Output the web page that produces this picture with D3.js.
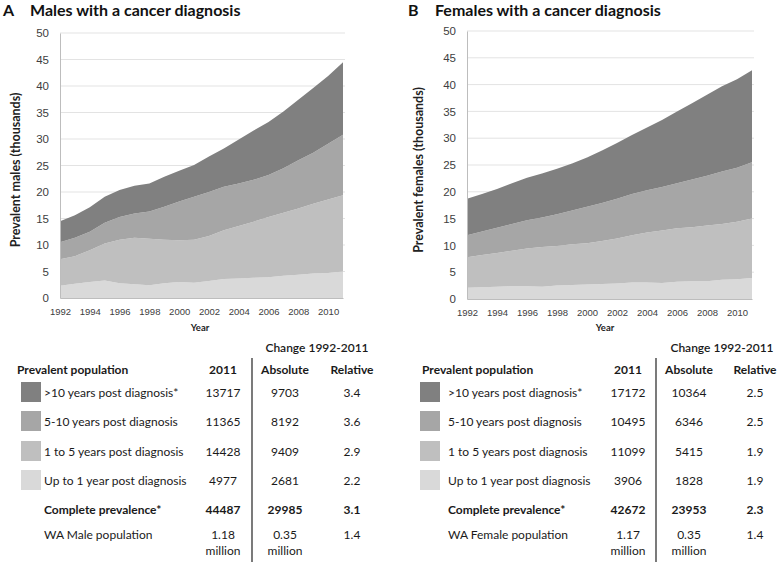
<!doctype html>
<html lang="en">
<head>
  <meta charset="utf-8">
  <title>Cancer prevalence WA</title>
  <script src="https://d3js.org/d3.v7.min.js"></script>
  <style>
  body { margin: 0; background: #fff; }
  svg { font-family: Lato, "Open Sans", sans-serif; }
  .tick text { fill: #404040; }
  </style>
</head>
<body>
<script>
  // years on the x axis
  var years = [1992,1993,1994,1995,1996,1997,1998,1999,2000,2001,
               2002,2003,2004,2005,2006,2007,2008,2009,2010,2011];
  var yTicks = [0,5,10,15,20,25,30,35,40,45,50];
  var xTicks = [1992,1994,1996,1998,2000,2002,2004,2006,2008,2010];

  // layer keys, bottom to top
  var keys = ["up1", "y1to5", "y5to10", "over10"];
  var colors = {up1: "#d9d9d9", y1to5: "#bfbfbf", y5to10: "#a6a6a6", over10: "#808080"};

  // males, thousands
  var maleUp1    = [2.3,2.7,3.0,3.3,2.8,2.6,2.4,2.8,3.0,2.9,3.2,3.6,3.7,3.8,3.9,4.2,4.4,4.6,4.7,4.98];
  var male1to5   = [5.0,5.2,6.0,7.0,8.2,8.75,8.8,8.2,7.9,8.1,8.5,9.2,9.9,10.6,11.4,11.9,12.5,13.2,13.9,14.43];
  var male5to10  = [3.2,3.45,3.5,3.9,4.3,4.6,5.1,6.2,7.3,8.1,8.3,8.2,8.0,7.9,7.9,8.4,9.1,9.6,10.5,11.37];
  var maleOver10 = [4.0,4.25,4.6,4.9,5.1,5.25,5.3,5.7,5.8,6.0,6.7,7.2,8.3,9.3,10.0,10.7,11.4,12.2,12.8,13.72];

  // females, thousands
  var femUp1    = [2.1,2.2,2.3,2.4,2.4,2.3,2.5,2.6,2.7,2.8,2.9,3.1,3.1,3.0,3.2,3.3,3.3,3.6,3.7,3.91];
  var fem1to5   = [5.7,6.0,6.3,6.6,7.0,7.4,7.4,7.6,7.7,8.0,8.4,8.8,9.3,9.8,10.0,10.1,10.4,10.4,10.7,11.1];
  var fem5to10  = [4.1,4.4,4.7,5.0,5.3,5.5,5.9,6.3,6.8,7.1,7.4,7.7,7.9,8.1,8.4,8.9,9.3,9.8,10.1,10.5];
  var femOver10 = [6.8,7.0,7.2,7.6,7.9,8.2,8.5,8.8,9.2,9.8,10.4,11.0,11.7,12.5,13.4,14.2,15.1,15.9,16.5,17.17];

  // table below each chart
  var rowLabels = [">10 years post diagnosis*", "5-10 years post diagnosis",
                   "1 to 5 years post diagnosis", "Up to 1 year post diagnosis"];
  var rowKeys = ["over10", "y5to10", "y1to5", "up1"];
  var male2011 = ["13717", "11365", "14428", "4977"];
  var maleAbs  = ["9703", "8192", "9409", "2681"];
  var maleRel  = ["3.4", "3.6", "2.9", "2.2"];
  var maleTotal = ["44487", "29985", "3.1"];
  var malePop = ["1.18", "0.35", "1.4"];
  var fem2011 = ["17172", "10495", "11099", "3906"];
  var femAbs  = ["10364", "6346", "5415", "1828"];
  var femRel  = ["2.5", "2.5", "1.9", "1.9"];
  var femTotal = ["42672", "23953", "2.3"];
  var femPop = ["1.17", "0.35", "1.4"];

  var svg = d3.select("body").append("svg")
      .attr("width", 778)
      .attr("height", 563);

  function toRows(a, b, c, d) {
    return years.map(function(yr, i) {
      return {year: yr, up1: a[i], y1to5: b[i], y5to10: c[i], over10: d[i]};
    });
  }

  function drawChart(p) {
    var x = d3.scaleLinear().domain([1992, 2011]).range([p.left, p.right]);
    var y = d3.scaleLinear().domain([0, 50]).range([p.bottom, p.top]);
    var g = svg.append("g");

    // title
    g.append("text").attr("x", p.letterX).attr("y", 16)
      .attr("font-size", 16).attr("font-weight", "bold").attr("fill", "#111")
      .text(p.letter);
    g.append("text").attr("x", p.titleX).attr("y", 16)
      .attr("font-size", 16).attr("font-weight", "bold").attr("fill", "#111")
      .text(p.title);

    // gridlines
    g.append("g").selectAll("line").data(yTicks.slice(1)).enter().append("line")
      .attr("x1", p.left).attr("x2", p.right + 2)
      .attr("y1", function(d) { return y(d); }).attr("y2", function(d) { return y(d); })
      .attr("stroke", "#e3e3e3");

    var stacked = d3.stack().keys(keys)(p.rows);
    var area = d3.area()
      .x(function(d) { return x(d.data.year); })
      .y0(function(d) { return y(d[0]); })
      .y1(function(d) { return y(d[1]); });
    g.append("g").selectAll("path").data(stacked).enter().append("path")
      .attr("d", area)
      .attr("fill", function(d) { return colors[d.key]; });

    // axes
    var ya = g.append("g").attr("transform", "translate(" + p.left + ",0)")
      .call(d3.axisLeft(y).tickValues(yTicks).tickSize(0).tickPadding(11));
    ya.select(".domain").attr("stroke", "#bdbdbd");
    ya.selectAll(".tick text").attr("font-size", 11.5);
    var xa = g.append("g").attr("transform", "translate(0," + p.bottom + ")")
      .call(d3.axisBottom(x).tickValues(xTicks).tickFormat(d3.format("d")).tickSize(0).tickPadding(10));
    xa.select(".domain").attr("stroke", "#bdbdbd");
    xa.selectAll(".tick text").attr("font-size", 9.5);

    g.append("text").attr("x", p.yearX).attr("y", 331)
      .attr("text-anchor", "middle").attr("font-size", 9.5).attr("font-weight", "bold")
      .attr("fill", "#222").text("Year");
    g.append("text")
      .attr("transform", "translate(" + p.ylabX + ",170) rotate(-90)")
      .attr("text-anchor", "middle").attr("font-size", 12.5).attr("font-weight", "bold")
      .attr("fill", "#222").text(p.ylab);
  }

  function drawTable(t) {
    var g = svg.append("g").attr("transform", "translate(" + t.dx + ",0)")
      .attr("fill", "#1a1a1a").attr("font-size", 12);
    g.append("text").attr("x", t.changeX).attr("y", 352).attr("text-anchor", "middle")
      .attr("font-weight", 600).text("Change 1992-2011");
    var hy = 374;
    g.append("text").attr("x", t.popX).attr("y", hy).attr("font-weight", "bold")
      .text("Prevalent population");
    g.append("text").attr("x", t.c1).attr("y", hy).attr("text-anchor", "middle")
      .attr("font-weight", "bold").text("2011");
    g.append("text").attr("x", t.c2).attr("y", hy).attr("text-anchor", "middle")
      .attr("font-weight", "bold").text("Absolute");
    g.append("text").attr("x", t.c3).attr("y", hy).attr("text-anchor", "middle")
      .attr("font-weight", "bold").text("Relative");
    g.append("line").attr("x1", t.lineX).attr("x2", t.lineX)
      .attr("y1", 358).attr("y2", 562).attr("stroke", "#222").attr("stroke-width", 1.2);

    var rowY = [392, 421, 451, 480];
    rowLabels.forEach(function(lab, i) {
      g.append("rect").attr("x", t.swX).attr("y", rowY[i] - 10)
        .attr("width", 20).attr("height", 20).attr("fill", colors[rowKeys[i]]);
      g.append("text").attr("x", t.labX).attr("y", rowY[i] + 5).text(lab);
      g.append("text").attr("x", t.c1).attr("y", rowY[i] + 5).attr("text-anchor", "middle").text(t.v2011[i]);
      g.append("text").attr("x", t.c2).attr("y", rowY[i] + 5).attr("text-anchor", "middle").text(t.abs[i]);
      g.append("text").attr("x", t.c3).attr("y", rowY[i] + 5).attr("text-anchor", "middle").text(t.rel[i]);
    });

    var by = 514;
    g.append("text").attr("x", t.labX).attr("y", by).attr("font-weight", "bold").text("Complete prevalence*");
    [t.c1, t.c2, t.c3].forEach(function(cx, j) {
      g.append("text").attr("x", cx).attr("y", by).attr("text-anchor", "middle")
        .attr("font-weight", "bold").text(t.total[j]);
    });

    var wy = 539;
    g.append("text").attr("x", t.labX).attr("y", wy).text(t.popLabel);
    [t.c1, t.c2, t.c3].forEach(function(cx, j) {
      g.append("text").attr("x", cx).attr("y", wy).attr("text-anchor", "middle").text(t.pop[j]);
    });
    g.append("text").attr("x", t.c1).attr("y", 555).attr("text-anchor", "middle").text("million");
    g.append("text").attr("x", t.c2).attr("y", 555).attr("text-anchor", "middle").text("million");
  }

  drawChart({letter: "A", letterX: 3, titleX: 30, title: "Males with a cancer diagnosis",
             left: 60, right: 343, top: 33, bottom: 298, yearX: 200, ylabX: 20,
             ylab: "Prevalent males (thousands)",
             rows: toRows(maleUp1, male1to5, male5to10, maleOver10)});
  drawChart({letter: "B", letterX: 408, titleX: 435, title: "Females with a cancer diagnosis",
             left: 467, right: 752, top: 31, bottom: 299, yearX: 605, ylabX: 423,
             ylab: "Prevalent females (thousands)",
             rows: toRows(femUp1, fem1to5, fem5to10, femOver10)});

  drawTable({dx: 0, changeX: 317, popX: 17, swX: 21, labX: 44, c1: 223, c2: 285, c3: 352, lineX: 252,
             v2011: male2011, abs: maleAbs, rel: maleRel, total: maleTotal, pop: malePop,
             popLabel: "WA Male population"});
  drawTable({dx: 390, changeX: 332, popX: 32, swX: 30, labX: 58, c1: 238, c2: 299, c3: 365, lineX: 266,
             v2011: fem2011, abs: femAbs, rel: femRel, total: femTotal, pop: femPop,
             popLabel: "WA Female population"});
</script>
</body>
</html>
